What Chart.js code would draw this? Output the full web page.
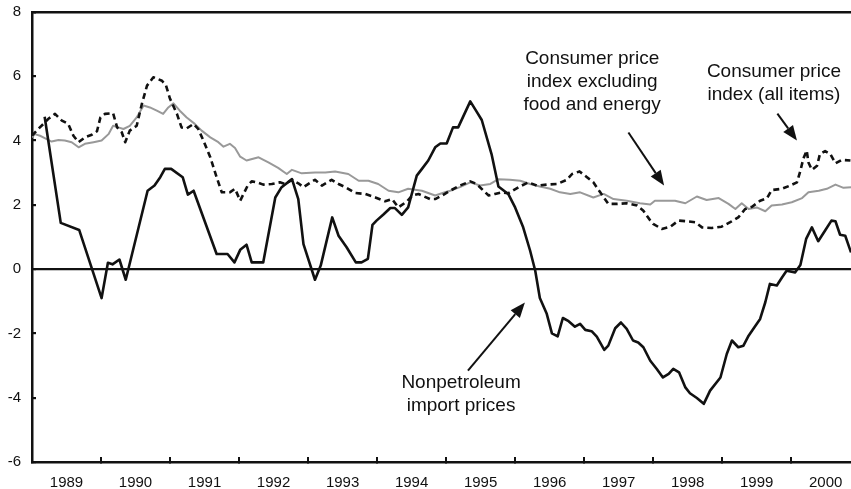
<!DOCTYPE html>
<html>
<head>
<meta charset="utf-8">
<script src="https://cdn.jsdelivr.net/npm/chart.js@4/dist/chart.umd.min.js"></script>
<style>
  body { margin: 0; background: #fff; }
  canvas { display: block; }
</style>
</head>
<body>
<canvas id="chart" width="851" height="489"></canvas>
<script>
// months counted from January 1989
const firstYear = 1989;
const yearTicks = [1989, 1990, 1991, 1992, 1993, 1994, 1995, 1996, 1997, 1998, 1999, 2000];
const yTicks = [-6, -4, -2, 0, 2, 4, 6, 8];

const importMonths = [2.2, 5.0, 8.2, 12.1, 13.2, 14.0, 15.2, 16.3, 20.1, 21.3, 22.3, 23.1, 24.2, 26.2, 27.1, 28.1,
  32.1, 34.0, 35.2, 36.2, 37.3, 38.2, 40.2, 42.3, 43.4, 45.2, 46.3, 47.2, 49.2, 50.2, 52.2, 53.3, 54.7, 56.3,
  57.3, 58.4, 59.2, 59.9, 61.1, 62.3, 63.1, 64.3, 65.4, 66.9, 67.8, 68.9, 70.1, 71.0, 72.1, 73.2, 74.1, 76.2,
  77.2, 78.2, 79.9, 81.1, 82.8, 84.0, 85.4, 86.6, 87.5, 88.3, 89.5, 90.4, 91.4, 92.3, 93.3, 94.4, 95.3, 96.2,
  97.3, 98.2, 99.5, 100.2, 101.4, 102.4, 103.4, 104.5, 105.4, 106.3, 107.5, 108.6, 109.7, 110.7, 111.5, 112.5,
  113.6, 114.4, 115.6, 116.8, 117.9, 119.7, 120.8, 121.7, 122.8, 123.7, 124.6, 125.4, 126.6, 127.5, 128.3,
  129.5, 130.4, 131.2, 132.7, 133.6, 134.6, 135.6, 136.7, 137.9, 139.0, 139.7, 140.5, 141.4, 142.4];
const importPrices = [4.74, 1.44, 1.22, -0.9, 0.2, 0.15, 0.3, -0.33, 2.44, 2.6, 2.86, 3.12, 3.12, 2.86, 2.32, 2.44,
  0.47, 0.47, 0.21, 0.6, 0.76, 0.21, 0.21, 2.23, 2.55, 2.8, 2.18, 0.78, -0.33, 0.11, 1.61, 1.04, 0.68, 0.21,
  0.21, 0.32, 1.38, 1.51, 1.7, 1.9, 1.9, 1.69, 1.92, 2.91, 3.12, 3.38, 3.79, 3.91, 3.91, 4.41, 4.41, 5.22,
  4.93, 4.64, 3.58, 2.57, 2.34, 1.92, 1.3, 0.58, -0.05, -0.9, -1.39, -2.0, -2.09, -1.52, -1.62, -1.79, -1.7, -1.89,
  -1.93, -2.1, -2.51, -2.38, -1.84, -1.66, -1.86, -2.22, -2.28, -2.43, -2.85, -3.1, -3.37, -3.26, -3.1, -3.21,
  -3.68, -3.86, -4.01, -4.19, -3.78, -3.37, -2.64, -2.22, -2.43, -2.38, -2.07, -1.86, -1.55, -1.03, -0.46,
  -0.51, -0.26, -0.05, -0.1, 0.13, 0.94, 1.3, 0.87, 1.2, 1.51, 1.49, 1.07, 1.04, 0.52];

const cpiMonths = [0, 0.8, 2, 2.8, 4, 5.2, 6.3, 7.2, 8.1, 9.2, 10.4, 11.3, 11.9, 12.7, 14.1, 14.8, 15.6, 16.2, 17,
  18.2, 19.1, 20, 21.1, 22.6, 23.3, 24, 25.2, 26, 26.9, 28.1, 28.9, 29.8, 31, 32.1, 33, 34.4, 35.3, 36.2, 37.5,
  38.2, 39.1, 40.2, 41.7, 43.1, 44, 45.2, 46.3, 47.2, 48.2, 49.2, 50.4, 52.1, 53.3, 54.7, 56.2, 57.9, 59.7, 61.4,
  62.6, 63.7, 65.2, 66.1, 67.2, 69.2, 70.1, 71.3, 72.7, 74.4, 76.2, 77.3, 78.5, 79.4, 80.5, 81.7, 82.8, 84.6,
  86.3, 87.8, 89.5, 91.3, 93, 93.9, 95.2, 96.5, 97.6, 98.8, 100.2, 101.7, 103.4, 105.2, 106.3, 107.5, 108, 109.5,
  111, 112.4, 113.9, 115.3, 116.5, 118.2, 119.9, 121.4, 122.8, 124, 125.2, 126.6, 127.8, 128.6, 130.4, 131.8,
  133, 133.6, 134.1, 134.7, 135, 135.6, 136.5, 137, 137.9, 138.8, 139.7, 140.8, 142.3];
const cpiAll = [4.15, 4.31, 4.52, 4.67, 4.83, 4.62, 4.52, 4.15, 3.95, 4.1, 4.18, 4.29, 4.72, 4.83, 4.85, 4.41, 4.26,
  3.95, 4.31, 4.46, 5.14, 5.71, 5.97, 5.86, 5.71, 5.3, 4.83, 4.41, 4.38, 4.52, 4.36, 4.0, 3.48, 2.86, 2.39, 2.39,
  2.5, 2.13, 2.6, 2.73, 2.7, 2.63, 2.65, 2.7, 2.65, 2.78, 2.67, 2.55, 2.67, 2.78, 2.6, 2.78, 2.65, 2.53, 2.37,
  2.34, 2.23, 2.11, 2.18, 1.92, 2.11, 2.29, 2.34, 2.18, 2.18, 2.29, 2.44, 2.6, 2.73, 2.65, 2.44, 2.29, 2.34, 2.39,
  2.36, 2.55, 2.7, 2.6, 2.63, 2.65, 2.78, 2.96, 3.04, 2.86, 2.7, 2.39, 2.03, 2.03, 2.05, 1.98, 1.82, 1.51, 1.41,
  1.25, 1.32, 1.51, 1.49, 1.46, 1.3, 1.28, 1.32, 1.46, 1.61, 1.87, 1.94, 2.13, 2.21, 2.46, 2.5, 2.6, 2.7, 3.06,
  3.43, 3.69, 3.32, 3.09, 3.22, 3.58, 3.67, 3.58, 3.29, 3.4, 3.38];

const coreMonths = [0, 0.5, 1.4, 2.3, 3.4, 4.6, 5.7, 6.9, 8.1, 9.2, 10.7, 12.1, 13.3, 14.1, 15, 15.9, 17, 18.2, 19.4,
  20.5, 21.7, 22.8, 23.7, 24.6, 25.7, 26.9, 28.3, 29.5, 31, 32.4, 33.3, 34.4, 35.3, 36.2, 37.3, 39.4, 41.1, 42.8,
  44.3, 45.2, 46.9, 49.2, 51, 52.7, 55, 56.8, 58.5, 60.2, 62, 63.7, 65.4, 67.8, 70.1, 71.8, 72.7, 74.4, 76.2,
  77.9, 79.7, 81.1, 83.1, 84.9, 86.6, 88.3, 90.1, 91.8, 93.6, 95.3, 97.6, 99.4, 101.1, 103.4, 105.7, 107.5, 108.3,
  110.1, 111.8, 113.6, 115.6, 117.3, 119.4, 121.1, 122.3, 123.4, 124.6, 126, 127.5, 128.6, 130.4, 132.1, 133.9,
  135, 136.8, 138.2, 139.7, 141.1, 142.4];
const cpiCore = [4.1, 4.2, 4.15, 4.07, 3.97, 4.02, 4.0, 3.95, 3.79, 3.9, 3.95, 4.0, 4.2, 4.46, 4.41, 4.36, 4.46, 4.72,
  5.09, 5.03, 4.93, 4.83, 5.03, 5.16, 4.93, 4.72, 4.52, 4.31, 4.1, 3.95, 3.81, 3.9, 3.77, 3.5, 3.38, 3.48, 3.32,
  3.15, 2.96, 3.09, 2.98, 3.01, 3.01, 3.04, 2.96, 2.75, 2.75, 2.65, 2.44, 2.39, 2.5, 2.44, 2.29, 2.39, 2.44, 2.55,
  2.7, 2.6, 2.65, 2.8, 2.78, 2.75, 2.65, 2.57, 2.5, 2.39, 2.34, 2.39, 2.23, 2.34, 2.18, 2.13, 2.05, 2.01, 2.13,
  2.13, 2.13, 2.05, 2.26, 2.15, 2.21, 2.03, 1.87, 2.05, 1.87, 1.92, 1.8, 1.98, 2.01, 2.08, 2.21, 2.39, 2.44, 2.5,
  2.63, 2.53, 2.55];

// annotation text and arrows, anchored in data units (month, value)
const notes = [
  { at: [97.4, 6.55], lines: ["Consumer price", "index excluding", "food and energy"] },
  { at: [129.0, 6.15], lines: ["Consumer price", "index (all items)"] },
  { at: [74.6, -3.53], lines: ["Nonpetroleum", "import prices"] },
];
const arrows = [
  { from: [103.7, 4.25], to: [109.9, 2.6] },
  { from: [129.6, 4.84], to: [133.0, 4.0] },
  { from: [75.8, -3.16], to: [85.7, -1.04] },
];

const FONT = "'Liberation Sans', Arial, Helvetica, sans-serif";

function points(xs, ys) {
  return xs.map((x, i) => ({ x: x, y: ys[i] }));
}

const annotate = {
  id: "annotate",
  afterDatasetsDraw(chart) {
    const ctx = chart.ctx;
    const xs = chart.scales.x, ys = chart.scales.y;
    ctx.save();
    ctx.fillStyle = "#111";
    ctx.font = "19px " + FONT;
    ctx.textAlign = "center";
    ctx.textBaseline = "middle";
    notes.forEach(n => {
      const px = xs.getPixelForValue(n.at[0]);
      const py = ys.getPixelForValue(n.at[1]);
      n.lines.forEach((t, i) => ctx.fillText(t, px, py + i * 23));
    });
    ctx.strokeStyle = "#111";
    ctx.lineWidth = 2;
    arrows.forEach(a => {
      const x1 = xs.getPixelForValue(a.from[0]), y1 = ys.getPixelForValue(a.from[1]);
      const x2 = xs.getPixelForValue(a.to[0]), y2 = ys.getPixelForValue(a.to[1]);
      const ang = Math.atan2(y2 - y1, x2 - x1);
      const len = 15, half = 6;
      const bx = x2 - len * Math.cos(ang), by = y2 - len * Math.sin(ang);
      ctx.beginPath();
      ctx.moveTo(x1, y1);
      ctx.lineTo(bx, by);
      ctx.stroke();
      ctx.beginPath();
      ctx.moveTo(x2, y2);
      ctx.lineTo(bx + half * Math.sin(ang), by - half * Math.cos(ang));
      ctx.lineTo(bx - half * Math.sin(ang), by + half * Math.cos(ang));
      ctx.closePath();
      ctx.fill();
    });
    ctx.restore();
  }
};

new Chart(document.getElementById("chart").getContext("2d"), {
  type: "line",
  data: {
    datasets: [
      {
        label: "Nonpetroleum import prices",
        data: points(importMonths, importPrices),
        borderColor: "#111",
        borderWidth: 2.6,
      },
      {
        label: "Consumer price index (all items)",
        data: points(cpiMonths, cpiAll),
        borderColor: "#111",
        borderWidth: 2.6,
        borderDash: [6, 4],
      },
      {
        label: "Consumer price index excluding food and energy",
        data: points(coreMonths, cpiCore),
        borderColor: "#999",
        borderWidth: 2,
      },
    ],
  },
  options: {
    responsive: false,
    animation: false,
    parsing: false,
    layout: { padding: { top: 12, right: 0, bottom: 0, left: 0 } },
    elements: {
      point: { radius: 0 },
      line: { tension: 0, borderJoinStyle: "round", borderCapStyle: "butt" },
    },
    plugins: {
      legend: { display: false },
      tooltip: { enabled: false },
    },
    scales: {
      x: {
        type: "linear",
        min: 0,
        max: 142.4,
        afterBuildTicks(scale) {
          const t = [];
          yearTicks.forEach((yr, i) => {
            t.push({ value: i * 12 });
            t.push({ value: i * 12 + 6 });
          });
          scale.ticks = t;
        },
        afterFit(scale) {
          scale.height = 27;
          scale.paddingLeft = 0;
          scale.paddingRight = 0;
        },
        ticks: {
          autoSkip: false,
          maxRotation: 0,
          padding: 17,
          color: "#111",
          font: { family: FONT, size: 15 },
          callback: (v) => (v % 12 === 6 ? String(firstYear + (v - 6) / 12) : ""),
        },
        grid: {
          drawOnChartArea: false,
          drawTicks: true,
          tickLength: -5,
          lineWidth: 2,
          tickColor: (c) => (c.tick && c.tick.value % 12 === 0 && c.tick.value > 0 ? "#111" : "rgba(0,0,0,0)"),
        },
        border: { display: true, color: "#111", width: 2.5 },
      },
      y: {
        min: -6,
        max: 8,
        afterBuildTicks(scale) { scale.ticks = yTicks.map(v => ({ value: v })); },
        afterFit(scale) {
          scale.width = 32;
          scale.paddingTop = 0;
          scale.paddingBottom = 0;
        },
        ticks: {
          padding: 15,
          color: "#111",
          font: { family: FONT, size: 15 },
        },
        grid: {
          drawTicks: true,
          tickLength: -4,
          tickColor: "#111",
          color: (c) => (c.tick && (c.tick.value === 0 || c.tick.value === 8) ? "#111" : "rgba(0,0,0,0)"),
          lineWidth: (c) => (c.tick && c.tick.value === 8 ? 2.5 : 2.2),
        },
        border: { display: true, color: "#111", width: 2.5 },
      },
    },
  },
  plugins: [annotate],
});
</script>
</body>
</html>
